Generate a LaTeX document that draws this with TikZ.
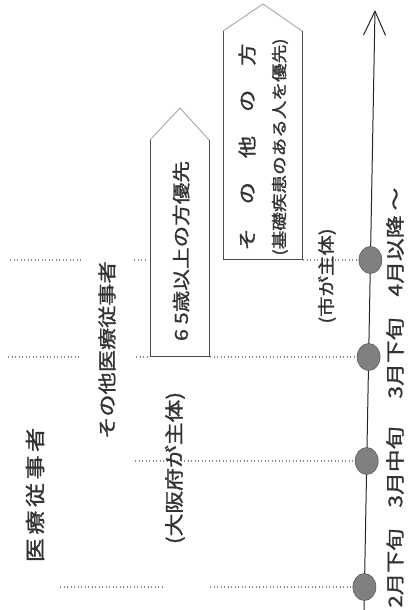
\documentclass[tikz,border=0pt]{standalone}
\usepackage{fontspec}
\usepackage{graphicx}
\newfontfamily\jp[FakeBold=1.2]{Noto Sans CJK JP}
\usetikzlibrary{arrows.meta,shapes.geometric}
\newcommand\stt[1]{\scalebox{1.2}[1]{#1}}
\begin{document}
\begin{tikzpicture}[x=1pt,y=-1pt,
  txt/.style={text=black!80, rotate=90, inner sep=0pt},
  fs/.style={font={\jp\fontsize{#1}{#1}\selectfont}},
  dotline/.style={draw=black!45, line width=1.1pt, dash pattern=on 1.1pt off 2.4pt},
  dotnode/.style={ellipse, fill=black!50, draw=black!65, line width=0.6pt, minimum width=23pt, minimum height=27pt, inner sep=0pt},
  side/.style={draw=black!70, line width=1pt},
  roof/.style={draw=black!35, line width=0.9pt},
  axisline/.style={draw=black!85, line width=1pt}
]
\useasboundingbox (0,0) rectangle (407,610);

% axis
\coordinate (ab) at (364,612);
\coordinate (at) at (375,10);
\draw[axisline, -{Straight Barb[length=24pt,width=22pt,line width=1pt]}] (ab) -- (at);

% timeline dots
\node[dotnode] (c1) at (364.4,587) {};
\node[dotnode] (c2) at (366.7,461) {};
\node[dotnode] (c3) at (368.6,357) {};
\node[dotnode] (c4) at (370.4,260) {};

% boxes
\draw[side] (150,140) -- (150,356) -- (209,356) -- (209,140);
\draw[roof] (150,140) -- (180,108) -- (209,140);
\draw[side] (223,31) -- (223,259) -- (302,259) -- (302,31);
\draw[roof] (223,31) -- (263,4) -- (302,31);

% dotted guide lines
\coordinate (r4a) at (10,260);  \coordinate (r4b) at (82,260);
\coordinate (r4c) at (134,260); \coordinate (r4d) at (147,260);
\coordinate (r4e) at (303,260);
\draw[dotline] (r4a) -- (r4b);
\draw[dotline] (r4c) -- (r4d);
\draw[dotline] (r4e) -- (c4);

\coordinate (r3a) at (8,357);   \coordinate (r3b) at (80,357);
\coordinate (r3c) at (136,357); \coordinate (r3d) at (149,357);
\coordinate (r3e) at (210,357);
\draw[dotline] (r3a) -- (r3b);
\draw[dotline] (r3c) -- (r3d);
\draw[dotline] (r3e) -- (c3);

\coordinate (r2a) at (135,461);
\draw[dotline] (r2a) -- (c2);

\coordinate (r1a) at (60,587);  \coordinate (r1b) at (163,587);
\coordinate (r1c) at (210,587);
\draw[dotline] (r1a) -- (r1b);
\draw[dotline] (r1c) -- (c1);

% texts
\node[txt, fs=20] (t1) at (35,495) {\stt{医\hspace{3pt}療\hspace{3pt}従\hspace{3pt}事\hspace{3pt}者}};
\node[txt, fs=18.5] (t2) at (107,350) {\stt{その他医療従事者}};
\node[txt, fs=19] (t3) at (175,468) {\stt{(大阪府が主体)}};
\node[txt, fs=18] (t4) at (181,251) {\stt{6 5歳以上の方優先}};
\node[txt, fs=18.5] (t5) at (247,147) {\stt{そ\hspace{20pt}の\hspace{20pt}他\hspace{20pt}の\hspace{20pt}方}};
\node[txt, fs=15.5] (t6) at (280,147) {\stt{(基礎疾患のある人を優先)}};
\node[txt, fs=17] (t7) at (327,276) {\stt{(市が主体)}};

\node[txt, fs=18.5] (m1) at (395,568) {\stt{2月下旬}};
\node[txt, fs=19] (m2) at (395,467) {\stt{3月中旬}};
\node[txt, fs=19] (m3) at (395,358) {\stt{3月下旬}};
\node[txt, fs=19] (m4) at (395,242) {\stt{4月以降 ～}};
\end{tikzpicture}
\end{document}
